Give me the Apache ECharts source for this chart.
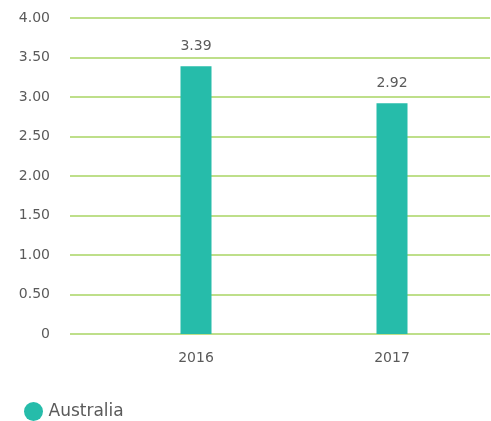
<!DOCTYPE html>
<html><head><meta charset="utf-8">
<script src="https://cdn.jsdelivr.net/npm/echarts@6/dist/echarts.min.js"></script>
<style>html,body{margin:0;padding:0;background:#fff}#c{width:491px;height:421px}</style>
</head><body><div id="c"></div>
<script>
const categories = ['2016', '2017'];
const australia = [3.39, 2.92];
const seriesName = 'Australia';
const yTicks = {min: 0, max: 4, interval: 0.5};

const chart = echarts.init(document.getElementById('c'));
const txt = '#5a5a5a';
const font = '"DejaVu Sans", sans-serif';
chart.setOption({
  animation: false,
  textStyle: {fontFamily: font},
  legend: {
    left: 19, top: 397, icon: 'circle', itemWidth: 20, itemHeight: 19, itemGap: 8,
    textStyle: {color: txt, fontSize: 17, fontFamily: font},
    data: [seriesName]
  },
  grid: [
    {left: 70, right: 1, top: 18, bottom: 87},
    {left: 98, right: 1, top: 18, bottom: 87}
  ],
  xAxis: [
    {gridIndex: 0, type: 'value', show: false},
    {gridIndex: 1, type: 'category', data: categories,
     axisLine: {show: false}, axisTick: {show: false},
     axisLabel: {color: txt, fontSize: 14, margin: 17, fontFamily: font}}
  ],
  yAxis: [
    {gridIndex: 0, type: 'value', min: yTicks.min, max: yTicks.max, interval: yTicks.interval,
     axisLine: {show: false}, axisTick: {show: false},
     splitLine: {lineStyle: {color: '#a9d563', width: 1.5}},
     axisLabel: {color: txt, fontSize: 14, margin: 20, fontFamily: font,
       formatter: v => v === 0 ? '0' : v.toFixed(2)}},
    {gridIndex: 1, type: 'value', min: yTicks.min, max: yTicks.max, interval: yTicks.interval, show: false}
  ],
  series: [{
    name: seriesName, type: 'bar', xAxisIndex: 1, yAxisIndex: 1,
    data: australia, barWidth: 31,
    itemStyle: {color: '#26bcaa'},
    label: {show: true, position: 'top', distance: 13, color: txt, fontSize: 14, fontFamily: font,
      formatter: p => p.value.toFixed(2)}
  }]
});
</script></body></html>
